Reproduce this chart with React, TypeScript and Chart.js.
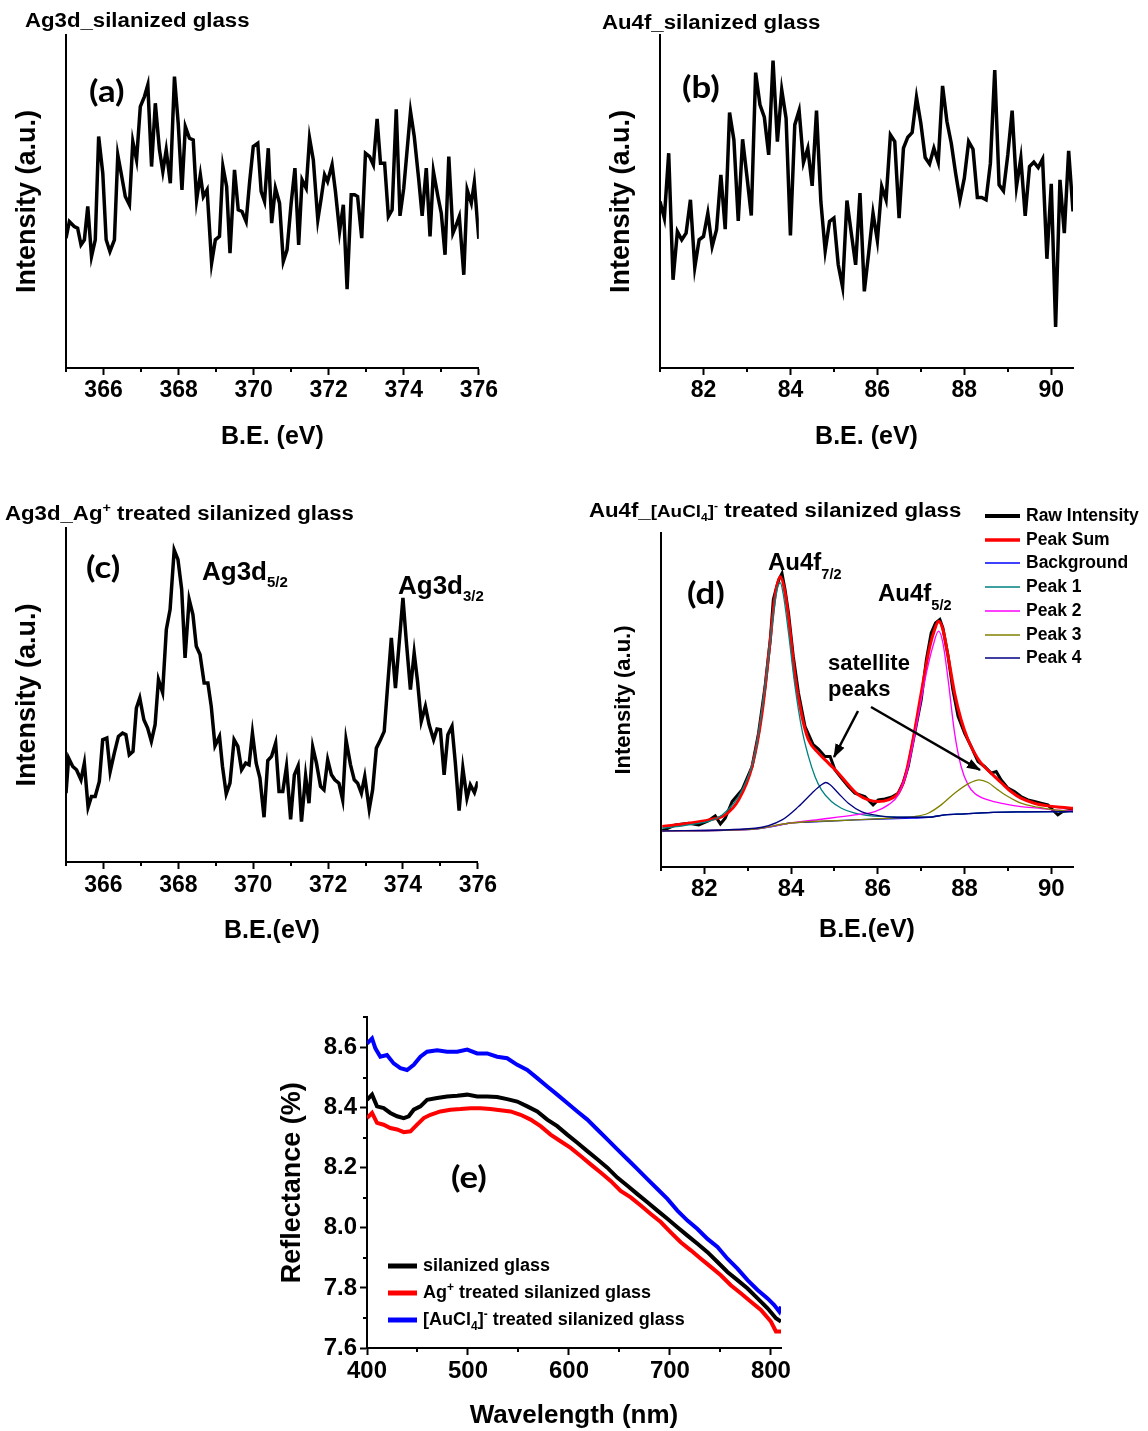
import React, { useEffect, useRef } from "react";
import { Chart, registerables } from "chart.js";

Chart.register(...registerables);

const SANS = '"Liberation Sans", Arial, Helvetica, sans-serif';
const LATO = 'Lato, "Open Sans", sans-serif';

// ---------------- (a) Ag3d, silanized glass ----------------
const agBlankEnergy = [
  365.0, 365.09, 365.22, 365.31, 365.4, 365.49, 365.58, 365.68, 365.78, 365.87,
  365.98, 366.07, 366.17, 366.29, 366.38, 366.47, 366.58, 366.69, 366.78, 366.88,
  366.98, 367.09, 367.18, 367.28, 367.38, 367.49, 367.58, 367.67, 367.78, 367.89,
  367.99, 368.09, 368.18, 368.29, 368.39, 368.48, 368.58, 368.66, 368.76, 368.88,
  368.98, 369.09, 369.18, 369.28, 369.37, 369.49, 369.59, 369.69, 369.8, 369.89,
  369.99, 370.11, 370.2, 370.29, 370.39, 370.48, 370.58, 370.69, 370.79, 370.89,
  371.0, 371.1, 371.2, 371.29, 371.4, 371.49, 371.59, 371.71, 371.8, 371.89,
  371.97, 372.09, 372.18, 372.29, 372.39, 372.49, 372.6, 372.69, 372.77, 372.88,
  372.98, 373.09, 373.19, 373.29, 373.38, 373.49, 373.59, 373.69, 373.8, 373.9,
  374.0, 374.18, 374.28, 374.4, 374.49, 374.6, 374.7, 374.79, 374.91, 375.0,
  375.1, 375.2, 375.31, 375.4, 375.48, 375.6, 375.69, 375.8, 375.88, 376.0,
];
const agBlankIntensity = [
  39.0, 44.0, 42.5, 42.0, 37.0, 38.5, 48.5, 33.5, 38.5, 69.5,
  58.5, 38.5, 35.0, 38.5, 64.0, 58.5, 51.5, 49.0, 68.0, 62.5,
  78.5, 81.5, 85.0, 60.5, 79.5, 65.5, 59.0, 65.5, 55.5, 87.5,
  73.5, 53.5, 72.5, 69.0, 68.5, 50.5, 58.0, 51.5, 53.5, 31.5,
  38.5, 39.5, 60.5, 54.5, 34.5, 59.5, 47.5, 47.0, 44.0, 55.5,
  66.5, 67.5, 53.0, 50.0, 66.0, 43.5, 54.0, 49.5, 32.0, 35.5,
  49.5, 60.0, 37.0, 56.5, 54.0, 69.0, 62.5, 44.5, 51.0, 58.0,
  56.0, 61.0, 53.0, 41.0, 49.0, 23.7, 52.0, 52.0, 51.5, 39.0,
  64.5, 63.5, 61.0, 74.8, 61.5, 61.5, 45.5, 47.5, 77.7, 45.7,
  54.0, 77.0, 69.5, 56.5, 45.7, 60.0, 39.5, 59.0, 51.5, 46.5,
  34.0, 63.5, 40.5, 43.0, 45.5, 28.0, 53.5, 49.5, 55.7, 38.8,
];

// ---------------- (b) Au4f, silanized glass ----------------
const auBlankEnergy = [
  81.0, 81.1, 81.2, 81.3, 81.4, 81.5, 81.6, 81.7, 81.8, 81.9,
  82.0, 82.1, 82.2, 82.3, 82.4, 82.5, 82.6, 82.7, 82.8, 82.9,
  83.0, 83.1, 83.2, 83.3, 83.4, 83.5, 83.6, 83.7, 83.8, 83.9,
  84.0, 84.1, 84.2, 84.3, 84.4, 84.5, 84.6, 84.7, 84.8, 84.9,
  85.0, 85.1, 85.2, 85.3, 85.4, 85.5, 85.6, 85.7, 85.8, 85.9,
  86.0, 86.1, 86.2, 86.3, 86.4, 86.5, 86.6, 86.7, 86.8, 86.9,
  87.0, 87.1, 87.2, 87.3, 87.4, 87.5, 87.6, 87.7, 87.8, 87.9,
  88.0, 88.1, 88.2, 88.3, 88.4, 88.5, 88.6, 88.7, 88.8, 88.9,
  89.0, 89.1, 89.2, 89.3, 89.4, 89.5, 89.6, 89.7, 89.8, 89.9,
  90.0, 90.1, 90.2, 90.3, 90.4, 90.5,
];
const auBlankIntensity = [
  50.0, 45.0, 64.5, 26.5, 41.0, 38.5, 40.5, 50.5, 30.2, 38.5,
  39.5, 46.5, 36.5, 41.5, 58.0, 41.7, 76.7, 68.5, 44.2, 68.7,
  57.5, 45.8, 88.7, 79.0, 75.3, 64.0, 92.3, 68.0, 83.5, 75.0,
  39.8, 73.0, 77.3, 61.7, 66.0, 54.7, 77.3, 50.0, 35.2, 44.0,
  45.0, 31.0, 24.3, 50.3, 40.5, 31.0, 52.5, 23.0, 34.5, 46.5,
  38.3, 54.5, 50.5, 70.0, 68.0, 45.0, 66.0, 69.3, 70.7, 81.3,
  73.5, 63.2, 61.3, 66.0, 61.8, 84.7, 74.0, 67.5, 58.5, 50.5,
  57.0, 68.0, 65.7, 51.2, 51.2, 50.5, 61.5, 89.5, 55.0, 53.2,
  64.0, 77.3, 54.5, 63.0, 45.7, 60.5, 61.8, 60.2, 62.7, 32.8,
  55.3, 12.3, 56.5, 40.5, 65.2, 47.0,
];

// ---------------- (c) Ag3d, Ag+ treated ----------------
const agTreatedEnergy = [
  365.0, 365.07, 365.18, 365.28, 365.4, 365.49, 365.59, 365.68, 365.78, 365.89,
  365.98, 366.09, 366.18, 366.29, 366.4, 366.51, 366.6, 366.69, 366.79, 366.88,
  366.97, 367.08, 367.18, 367.28, 367.38, 367.47, 367.58, 367.68, 367.78, 367.89,
  367.99, 368.09, 368.18, 368.29, 368.39, 368.48, 368.58, 368.69, 368.79, 368.88,
  368.98, 369.1, 369.18, 369.28, 369.38, 369.49, 369.59, 369.69, 369.8, 369.89,
  369.98, 370.08, 370.18, 370.29, 370.39, 370.49, 370.6, 370.69, 370.79, 370.89,
  371.0, 371.1, 371.2, 371.29, 371.4, 371.49, 371.59, 371.69, 371.8, 371.89,
  371.99, 372.09, 372.18, 372.29, 372.39, 372.48, 372.6, 372.7, 372.79, 372.89,
  372.98, 373.1, 373.19, 373.29, 373.4, 373.5, 373.59, 373.69, 373.8, 373.9,
  374.0, 374.09, 374.2, 374.3, 374.39, 374.49, 374.6, 374.7, 374.82, 374.91,
  375.0, 375.1, 375.2, 375.31, 375.4, 375.5, 375.6, 375.71, 375.8, 375.91,
  376.0,
];
const agTreatedIntensity = [
  20.6, 31.1, 28.6, 27.6, 24.6, 29.6, 16.4, 19.6, 19.6, 24.1,
  36.6, 37.1, 27.1, 32.6, 37.6, 38.6, 38.1, 32.1, 33.1, 46.1,
  49.1, 42.6, 40.1, 36.1, 41.1, 54.6, 50.8, 69.6, 75.6, 93.4,
  90.6, 81.6, 61.1, 78.6, 74.1, 64.6, 62.1, 53.6, 53.6, 46.6,
  34.8, 37.6, 28.6, 20.4, 23.6, 36.6, 34.6, 27.6, 29.6, 29.1,
  38.6, 29.6, 25.1, 13.4, 30.4, 31.6, 35.6, 21.1, 21.1, 28.6,
  12.8, 26.1, 28.8, 12.1, 25.8, 17.6, 34.4, 29.6, 22.6, 21.6,
  30.6, 26.1, 24.6, 23.6, 18.6, 36.6, 29.1, 24.6, 23.6, 20.6,
  25.6, 15.8, 21.6, 34.1, 36.6, 39.1, 52.6, 67.1, 52.1, 65.6,
  79.1, 66.1, 51.6, 62.6, 54.1, 42.1, 46.6, 41.1, 36.6, 39.8,
  39.6, 26.1, 38.1, 40.6, 29.6, 15.4, 28.1, 19.1, 23.1, 20.8,
  24.1,
];

// ---------------- (d) Au4f, [AuCl4]- treated, with fit ----------------
const dSeriesNames = ["Raw Intensity", "Peak Sum", "Background", "Peak 1", "Peak 2", "Peak 3", "Peak 4"];
const rawEnergy = [
  81.03, 81.33, 81.64, 81.87, 82.1, 82.25, 82.37, 82.48, 82.64, 82.87,
  83.1, 83.25, 83.4, 83.52, 83.59, 83.67, 83.72, 83.79, 83.86, 83.94,
  84.05, 84.17, 84.32, 84.51, 84.63, 84.78, 84.9, 85.01, 85.16, 85.32,
  85.47, 85.7, 85.89, 86.01, 86.16, 86.31, 86.47, 86.58, 86.7, 86.85,
  87.0, 87.12, 87.23, 87.33, 87.43, 87.5, 87.62, 87.73, 87.85, 88.0,
  88.15, 88.31, 88.46, 88.61, 88.73, 88.84, 89.0, 89.15, 89.3, 89.46,
  89.61, 89.76, 89.92, 90.07, 90.15, 90.26, 90.5,
];
const rawIntensity = [
  10.8, 12.6, 13.1, 12.6, 13.9, 15.3, 12.9, 14.6, 19.6, 23.1,
  30.1, 40.1, 54.1, 68.1, 80.1, 84.1, 86.1, 87.9, 83.1, 76.1,
  63.1, 52.1, 42.1, 36.6, 35.3, 33.1, 33.1, 29.1, 26.6, 24.1,
  22.1, 21.1, 18.6, 20.1, 20.4, 20.9, 22.1, 25.1, 30.1, 40.1,
  50.1, 62.1, 70.1, 73.1, 74.1, 71.6, 63.1, 53.1, 45.1, 40.1,
  36.1, 31.6, 30.1, 28.1, 28.6, 26.1, 23.6, 22.6, 21.1, 20.1,
  19.6, 19.1, 18.6, 16.6, 15.6, 16.6, 17.1,
];
const sumEnergy = [
  81.03, 81.64, 82.1, 82.48, 82.79, 83.1, 83.33, 83.52, 83.63, 83.75,
  83.86, 83.98, 84.09, 84.25, 84.4, 84.63, 84.86, 85.09, 85.32, 85.55,
  85.78, 86.01, 86.24, 86.47, 86.62, 86.81, 87.0, 87.2, 87.31, 87.4,
  87.5, 87.62, 87.77, 87.92, 88.08, 88.23, 88.38, 88.61, 88.84, 89.07,
  89.3, 89.61, 89.92, 90.22, 90.5,
];
const sumIntensity = [
  12.1, 13.1, 14.1, 15.6, 20.1, 30.1, 46.1, 68.1, 81.1, 86.9,
  82.1, 70.1, 57.1, 45.1, 38.1, 34.1, 31.1, 28.1, 24.6, 21.6,
  20.1, 19.6, 20.1, 22.1, 26.6, 38.1, 52.1, 66.1, 71.1, 73.6,
  71.1, 63.1, 52.1, 44.1, 38.1, 34.1, 31.1, 28.1, 25.3, 22.6,
  20.6, 19.1, 18.3, 17.9, 17.6,
];
const bgEnergy = [81.03, 83.1, 83.56, 83.94, 84.32, 85.47, 86.62, 87.16, 87.54, 88.0, 88.54, 89.3, 90.5];
const bgIntensity = [10.8, 11.3, 12.1, 13.1, 13.4, 14.1, 14.6, 14.9, 15.6, 15.9, 16.3, 16.5, 16.6];
const peak1Energy = [
  81.03, 81.64, 82.41, 82.87, 83.17, 83.4, 83.56, 83.67, 83.75, 83.82,
  83.94, 84.09, 84.25, 84.4, 84.55, 84.7, 84.93, 85.16, 85.47, 85.85,
  86.24, 86.62, 87.16, 87.54, 88.0, 88.54, 89.3, 90.5,
];
const peak1Intensity = [
  11.6, 12.6, 15.6, 23.1, 34.1, 54.1, 72.1, 82.6, 85.1, 81.6,
  70.1, 54.1, 41.1, 33.1, 27.1, 23.1, 19.6, 17.6, 16.1, 15.3,
  15.1, 14.9, 14.9, 15.6, 15.9, 16.3, 16.5, 16.6,
];
const peak2Energy = [
  81.03, 83.1, 83.94, 84.7, 85.47, 85.93, 86.24, 86.47, 86.7, 86.93,
  87.12, 87.27, 87.4, 87.5, 87.62, 87.77, 87.92, 88.08, 88.23, 88.54,
  88.92, 89.3, 89.69, 90.07, 90.5,
];
const peak2Intensity = [
  10.8, 11.3, 13.1, 14.3, 15.6, 16.6, 18.6, 21.6, 30.1, 45.1,
  58.1, 66.1, 70.6, 67.1, 56.1, 40.1, 30.1, 24.6, 22.1, 20.1,
  18.9, 18.1, 17.6, 17.1, 16.8,
];
const peak3Energy = [
  81.03, 83.1, 83.94, 85.47, 86.24, 86.85, 87.16, 87.46, 87.77, 88.08,
  88.34, 88.54, 88.77, 89.0, 89.3, 89.69, 90.07, 90.5,
];
const peak3Intensity = [
  10.8, 11.3, 13.1, 14.1, 14.6, 15.1, 16.1, 18.6, 22.1, 24.9,
  26.1, 25.3, 23.1, 21.1, 19.1, 17.9, 17.1, 16.6,
];
const peak4Energy = [
  81.03, 83.17, 83.79, 84.17, 84.48, 84.7, 84.8, 84.9, 85.09, 85.32,
  85.62, 86.01, 86.39, 87.16, 87.54, 88.0, 88.54, 89.3, 90.5,
];
const peak4Intensity = [
  10.8, 11.6, 14.1, 18.1, 22.1, 24.6, 25.3, 24.6, 22.1, 19.1,
  16.6, 15.4, 14.9, 14.9, 15.6, 15.9, 16.3, 16.5, 16.6,
];

// ---------------- (e) reflectance ----------------
const silanizedWl = [
  400, 405, 409.9, 416.5, 423.1, 429.8, 436.4, 441.3, 446.3, 452.9,
  459.5, 469.4, 479.3, 489.3, 499.2, 509.1, 519.0, 528.9, 538.8, 548.8,
  558.7, 568.6, 578.5, 588.4, 598.3, 608.3, 618.2, 628.1, 638.0, 647.9,
  657.9, 667.8, 677.7, 687.6, 697.5, 707.4, 717.4, 727.3, 737.2, 747.1,
  757.0, 766.9, 776.9, 786.8, 796.7, 805.0, 810,
];
const silanizedRefl = [
  8.426, 8.443, 8.404, 8.398, 8.382, 8.371, 8.365, 8.371, 8.393, 8.404,
  8.426, 8.432, 8.437, 8.439, 8.443, 8.437, 8.437, 8.435, 8.428, 8.42,
  8.404, 8.387, 8.36, 8.338, 8.31, 8.283, 8.255, 8.228, 8.2, 8.167,
  8.14, 8.112, 8.085, 8.057, 8.03, 8.002, 7.974, 7.947, 7.919, 7.886,
  7.853, 7.826, 7.798, 7.765, 7.732, 7.699, 7.688,
];
const agWl = [
  400, 405, 409.9, 416.5, 423.1, 429.8, 436.4, 443.0, 449.6, 456.2,
  462.8, 472.7, 482.6, 492.6, 502.5, 512.4, 522.3, 532.2, 542.1, 552.1,
  562.0, 571.9, 581.8, 591.7, 601.7, 611.6, 621.5, 631.4, 641.3, 651.2,
  661.2, 671.1, 681.0, 690.9, 700.8, 710.7, 720.7, 730.6, 740.5, 750.4,
  760.3, 770.2, 780.2, 790.1, 800.0, 805.0, 810,
];
const agRefl = [
  8.365, 8.382, 8.349, 8.343, 8.332, 8.327, 8.318, 8.321, 8.343, 8.365,
  8.376, 8.387, 8.393, 8.395, 8.398, 8.398, 8.395, 8.391, 8.387, 8.376,
  8.36, 8.338, 8.31, 8.288, 8.266, 8.239, 8.211, 8.184, 8.156, 8.123,
  8.101, 8.074, 8.046, 8.019, 7.985, 7.952, 7.925, 7.897, 7.87, 7.842,
  7.809, 7.782, 7.754, 7.727, 7.688, 7.655, 7.655,
];
const auWl = [
  400, 405, 408.3, 413.2, 419.8, 426.4, 433.1, 439.7, 446.3, 452.9,
  459.5, 469.4, 479.3, 489.3, 499.2, 509.1, 519.0, 528.9, 538.8, 548.8,
  558.7, 568.6, 578.5, 588.4, 598.3, 608.3, 618.2, 628.1, 638.0, 647.9,
  657.9, 667.8, 677.7, 687.6, 697.5, 707.4, 717.4, 727.3, 737.2, 747.1,
  757.0, 766.9, 776.9, 786.8, 796.7, 803.3, 808.3, 810,
];
const auRefl = [
  8.613, 8.63, 8.597, 8.569, 8.575, 8.547, 8.531, 8.525, 8.542, 8.569,
  8.586, 8.591, 8.586, 8.586, 8.593, 8.58, 8.58, 8.569, 8.564, 8.542,
  8.525, 8.498, 8.47, 8.443, 8.415, 8.387, 8.36, 8.327, 8.294, 8.261,
  8.228, 8.195, 8.162, 8.129, 8.096, 8.057, 8.024, 7.996, 7.963, 7.936,
  7.897, 7.864, 7.826, 7.793, 7.765, 7.743, 7.721, 7.738,
];
const eSeriesNames = ["silanized glass", "Ag+ treated silanized glass", "[AuCl4]- treated silanized glass"];

// ---------------- tick values ----------------
const agMajorTicks = [366, 368, 370, 372, 374, 376];
const agMinorTicks = [365, 367, 369, 371, 373, 375];
const auMajorTicks = [82, 84, 86, 88, 90];
const auMinorTicks = [81, 83, 85, 87, 89];
const wlMajorTicks = [400, 500, 600, 700, 800];
const wlMinorTicks = [450, 550, 650, 750];
const reflMajorTicks = [7.6, 7.8, 8.0, 8.2, 8.4, 8.6];
const reflMinorTicks = [7.7, 7.9, 8.1, 8.3, 8.5, 8.7];

// ---------------- styles ----------------
const D_STYLE = [
  { color: "#000000", width: 3, legendWidth: 4 },
  { color: "#FF0000", width: 3, legendWidth: 3.5 },
  { color: "#0000FF", width: 1.3, legendWidth: 1.5 },
  { color: "#008080", width: 1.3, legendWidth: 1.5 },
  { color: "#FF00FF", width: 1.3, legendWidth: 1.5 },
  { color: "#808000", width: 1.3, legendWidth: 1.5 },
  { color: "#000080", width: 1.3, legendWidth: 1.5 },
];
const E_COLORS = ["#000000", "#FF0000", "#0000FF"];

function pts(xs: number[], ys: number[]) {
  return xs.map((x, i) => ({ x, y: ys[i] }));
}

function minorTickPlugin(xVals: number[], yVals: number[], len: number) {
  return {
    id: "minorTicks",
    afterDraw(chart: any) {
      const { ctx, chartArea, scales } = chart;
      ctx.save();
      ctx.strokeStyle = "#000";
      ctx.lineWidth = 2;
      ctx.beginPath();
      for (const v of xVals) {
        const px = Math.round(scales.x.getPixelForValue(v));
        ctx.moveTo(px, chartArea.bottom);
        ctx.lineTo(px, chartArea.bottom + len);
      }
      for (const v of yVals) {
        const py = Math.round(scales.y.getPixelForValue(v));
        ctx.moveTo(chartArea.left, py);
        ctx.lineTo(chartArea.left - len, py);
      }
      ctx.stroke();
      ctx.restore();
    },
  };
}

type XpsOpts = {
  datasets: any[];
  xMin: number;
  xMax: number;
  xTicks: number[];
  xMinor: number[];
  yMax: number;
  yWidth: number;
  xHeight: number;
  padTop: number;
  padRight: number;
  yTitle: string;
  yTitleSize: number;
  yTitlePad: number;
  xTitle: string;
  xTitleSize: number;
  xTitlePad: number;
  tickSize: number;
  tickPad: number;
};

function xpsConfig(o: XpsOpts): any {
  return {
    type: "line",
    data: { datasets: o.datasets },
    options: {
      responsive: false,
      animation: false,
      events: [],
      layout: { padding: { top: o.padTop, right: o.padRight, left: 0, bottom: 0 } },
      plugins: { legend: { display: false }, tooltip: { enabled: false } },
      elements: { point: { radius: 0 } },
      scales: {
        x: {
          type: "linear",
          min: o.xMin,
          max: o.xMax,
          afterBuildTicks: (s: any) => {
            s.ticks = o.xTicks.map((v) => ({ value: v }));
          },
          afterFit: (s: any) => {
            s.height = o.xHeight;
          },
          grid: { display: true, drawOnChartArea: false, drawTicks: true, tickLength: 7, tickWidth: 2, tickColor: "#000" },
          border: { display: true, color: "#000", width: 2 },
          ticks: {
            color: "#000",
            autoSkip: false,
            maxRotation: 0,
            padding: o.tickPad,
            font: { family: SANS, size: o.tickSize, weight: "bold" },
            callback: (v: any) => String(v),
          },
          title: {
            display: true,
            text: o.xTitle,
            color: "#000",
            font: { family: SANS, size: o.xTitleSize, weight: "bold" },
            padding: { top: 0, bottom: o.xTitlePad },
          },
        },
        y: {
          type: "linear",
          min: 0,
          max: o.yMax,
          afterFit: (s: any) => {
            s.width = o.yWidth;
          },
          grid: { display: false },
          border: { display: true, color: "#000", width: 2 },
          ticks: { display: false },
          title: {
            display: true,
            text: o.yTitle,
            color: "#000",
            font: { family: SANS, size: o.yTitleSize, weight: "bold" },
            padding: { top: o.yTitlePad, bottom: 0 },
          },
        },
      },
    },
    plugins: [minorTickPlugin(o.xMinor, [], 4)],
  };
}

function rawLine(label: string, xs: number[], ys: number[]) {
  return { label, data: pts(xs, ys), borderColor: "#000", borderWidth: 3.5, pointRadius: 0, tension: 0, fill: false };
}

function buildA() {
  return xpsConfig({
    datasets: [rawLine("Ag3d_silanized glass", agBlankEnergy, agBlankIntensity)],
    xMin: 365, xMax: 376, xTicks: agMajorTicks, xMinor: agMinorTicks, yMax: 100,
    yWidth: 66, xHeight: 92, padTop: 35, padRight: 20,
    yTitle: "Intensity (a.u.)", yTitleSize: 27, yTitlePad: 11,
    xTitle: "B.E. (eV)", xTitleSize: 25, xTitlePad: 8, tickSize: 23, tickPad: 2,
  });
}
function buildB() {
  return xpsConfig({
    datasets: [rawLine("Au4f_silanized glass", auBlankEnergy, auBlankIntensity)],
    xMin: 81, xMax: 90.5, xTicks: auMajorTicks, xMinor: auMinorTicks, yMax: 100,
    yWidth: 66, xHeight: 92, padTop: 35, padRight: 21,
    yTitle: "Intensity (a.u.)", yTitleSize: 27, yTitlePad: 11,
    xTitle: "B.E. (eV)", xTitleSize: 25, xTitlePad: 8, tickSize: 23, tickPad: 2,
  });
}
function buildC() {
  return xpsConfig({
    datasets: [rawLine("Ag3d_Ag+ treated silanized glass", agTreatedEnergy, agTreatedIntensity)],
    xMin: 365, xMax: 376, xTicks: agMajorTicks, xMinor: agMinorTicks, yMax: 100,
    yWidth: 66, xHeight: 93, padTop: 34, padRight: 20,
    yTitle: "Intensity (a.u.)", yTitleSize: 27, yTitlePad: 11,
    xTitle: "B.E.(eV)", xTitleSize: 25, xTitlePad: 9, tickSize: 23, tickPad: 3,
  });
}
function buildD() {
  const sets = [
    [rawEnergy, rawIntensity],
    [sumEnergy, sumIntensity],
    [bgEnergy, bgIntensity],
    [peak1Energy, peak1Intensity],
    [peak2Energy, peak2Intensity],
    [peak3Energy, peak3Intensity],
    [peak4Energy, peak4Intensity],
  ];
  const datasets = sets.map(([xs, ys], i) => ({
    label: dSeriesNames[i],
    data: pts(xs, ys),
    borderColor: D_STYLE[i].color,
    borderWidth: D_STYLE[i].width,
    pointRadius: 0,
    fill: false,
    tension: 0,
    cubicInterpolationMode: i === 0 ? "default" : "monotone",
    order: 7 - i,
  }));
  return xpsConfig({
    datasets,
    xMin: 81, xMax: 90.5, xTicks: auMajorTicks, xMinor: auMinorTicks, yMax: 100,
    yWidth: 67, xHeight: 88, padTop: 39, padRight: 21,
    yTitle: "Intensity (a.u.)", yTitleSize: 22, yTitlePad: 17,
    xTitle: "B.E.(eV)", xTitleSize: 25, xTitlePad: 10, tickSize: 24, tickPad: 1,
  });
}
function buildE(): any {
  const sets = [
    [silanizedWl, silanizedRefl],
    [agWl, agRefl],
    [auWl, auRefl],
  ];
  const datasets = sets.map(([xs, ys], i) => ({
    label: eSeriesNames[i],
    data: pts(xs, ys),
    borderColor: E_COLORS[i],
    borderWidth: 4,
    pointRadius: 0,
    fill: false,
    tension: 0,
    order: i,
  }));
  return {
    type: "line",
    data: { datasets },
    options: {
      responsive: false,
      animation: false,
      events: [],
      layout: { padding: { top: 13, right: 29, left: 0, bottom: 0 } },
      plugins: { legend: { display: false }, tooltip: { enabled: false } },
      scales: {
        x: {
          type: "linear",
          min: 400,
          max: 810,
          afterBuildTicks: (s: any) => {
            s.ticks = wlMajorTicks.map((v) => ({ value: v }));
          },
          afterFit: (s: any) => {
            s.height = 83;
          },
          grid: { display: true, drawOnChartArea: false, drawTicks: true, tickLength: 7, tickWidth: 2, tickColor: "#000" },
          border: { display: true, color: "#000", width: 2 },
          ticks: { color: "#000", autoSkip: false, maxRotation: 0, padding: 2, font: { family: SANS, size: 24, weight: "bold" }, callback: (v: any) => String(v) },
          title: { display: true, text: "Wavelength (nm)", color: "#000", font: { family: SANS, size: 26, weight: "bold" }, padding: { top: 0, bottom: 0 } },
        },
        y: {
          type: "linear",
          min: 7.6,
          max: 8.7,
          afterBuildTicks: (s: any) => {
            s.ticks = reflMajorTicks.map((v) => ({ value: v }));
          },
          afterFit: (s: any) => {
            s.width = 97;
          },
          grid: { display: true, drawOnChartArea: false, drawTicks: true, tickLength: 7, tickWidth: 2, tickColor: "#000" },
          border: { display: true, color: "#000", width: 2 },
          ticks: { color: "#000", padding: 3, font: { family: SANS, size: 24, weight: "bold" }, callback: (v: any) => Number(v).toFixed(1) },
          title: { display: true, text: "Reflectance (%)", color: "#000", font: { family: SANS, size: 27, weight: "bold" }, padding: { top: 6, bottom: 0 } },
        },
      },
    },
    plugins: [minorTickPlugin(wlMinorTicks, reflMinorTicks, 4)],
  };
}

function ChartCanvas(props: { left: number; top: number; width: number; height: number; build: () => any }) {
  const ref = useRef<HTMLCanvasElement | null>(null);
  useEffect(() => {
    if (!ref.current) return;
    const chart = new Chart(ref.current, props.build());
    return () => chart.destroy();
  }, []);
  return (
    <canvas
      ref={ref}
      width={props.width}
      height={props.height}
      style={{ position: "absolute", left: props.left, top: props.top, width: props.width, height: props.height }}
    />
  );
}

function Txt(props: { x: number; cy: number; size: number; family?: string; sx?: number; k?: number; children: any }) {
  const k = props.k ?? 0.49;
  return (
    <div
      style={{
        position: "absolute",
        left: props.x,
        top: props.cy - props.size * k,
        fontFamily: props.family ?? SANS,
        fontSize: props.size,
        fontWeight: 700,
        lineHeight: `${props.size}px`,
        whiteSpace: "nowrap",
        color: "#000",
        transform: props.sx ? `scaleX(${props.sx})` : undefined,
        transformOrigin: "left center",
      }}
    >
      {props.children}
    </div>
  );
}

function Sub(props: { size: number; dy: number; children: any }) {
  return <span style={{ fontSize: props.size, position: "relative", top: props.dy }}>{props.children}</span>;
}

const dLegendRows = [516, 540, 563, 587, 611, 635, 658];
const eLegendRows = [1265, 1292, 1319];

export default function App() {
  return (
    <div style={{ position: "absolute", left: 0, top: 0, width: 1148, height: 1431, background: "#fff", overflow: "hidden" }}>
      <ChartCanvas left={0} top={0} width={500} height={460} build={buildA} />
      <ChartCanvas left={594} top={0} width={500} height={460} build={buildB} />
      <ChartCanvas left={0} top={494} width={500} height={461} build={buildC} />
      <ChartCanvas left={594} top={494} width={500} height={461} build={buildD} />
      <ChartCanvas left={270} top={1000} width={540} height={431} build={buildE} />

      {/* panel titles */}
      <Txt x={25} cy={20} size={20} sx={1.11}>Ag3d_silanized glass</Txt>
      <Txt x={602} cy={21.5} size={20} sx={1.11}>Au4f_silanized glass</Txt>
      <Txt x={5} cy={512.5} size={20} sx={1.11}>
        Ag3d_Ag<Sub size={13} dy={-8}>+</Sub> treated silanized glass
      </Txt>
      <Txt x={589} cy={510} size={20} sx={1.11}>
        Au4f_<span style={{ fontSize: 17 }}>[AuCl<Sub size={11} dy={4}>4</Sub>]<Sub size={11} dy={-8}>-</Sub></span> treated silanized glass
      </Txt>

      {/* panel letters */}
      <Txt x={89} cy={93} size={31} family={LATO} sx={1.12} k={0.58}>(a)</Txt>
      <Txt x={682} cy={89} size={31} family={LATO} sx={1.12} k={0.58}>(b)</Txt>
      <Txt x={86} cy={569} size={31} family={LATO} sx={1.12} k={0.58}>(c)</Txt>
      <Txt x={687} cy={595} size={31} family={LATO} sx={1.12} k={0.58}>(d)</Txt>
      <Txt x={451} cy={1179} size={31} family={LATO} sx={1.12} k={0.58}>(e)</Txt>

      {/* peak annotations */}
      <Txt x={202} cy={571} size={26}>
        Ag3d<Sub size={15} dy={7}>5/2</Sub>
      </Txt>
      <Txt x={398} cy={585} size={26}>
        Ag3d<Sub size={15} dy={7}>3/2</Sub>
      </Txt>
      <Txt x={768} cy={561.5} size={24}>
        Au4f<Sub size={14.5} dy={9}>7/2</Sub>
      </Txt>
      <Txt x={878} cy={593} size={24}>
        Au4f<Sub size={14.5} dy={9}>5/2</Sub>
      </Txt>
      <Txt x={828} cy={663} size={22}>satellite</Txt>
      <Txt x={828} cy={689} size={22}>peaks</Txt>

      <svg width={1148} height={1431} style={{ position: "absolute", left: 0, top: 0, pointerEvents: "none" }}>
        <defs>
          <marker id="ah" markerUnits="userSpaceOnUse" markerWidth="14" markerHeight="10" refX="13" refY="5" orient="auto">
            <path d="M0,0 L14,5 L0,10 z" fill="#000" />
          </marker>
        </defs>
        <line x1={858} y1={711} x2={834} y2={757} stroke="#000" strokeWidth={2.5} markerEnd="url(#ah)" />
        <line x1={871} y1={707} x2={980} y2={770} stroke="#000" strokeWidth={2.5} markerEnd="url(#ah)" />
        {dLegendRows.map((y, i) => (
          <line key={"dl" + i} x1={985} y1={y} x2={1020} y2={y} stroke={D_STYLE[i].color} strokeWidth={D_STYLE[i].legendWidth} />
        ))}
        {eLegendRows.map((y, i) => (
          <line key={"el" + i} x1={388} y1={y + 1} x2={417} y2={y + 1} stroke={E_COLORS[i]} strokeWidth={5} />
        ))}
      </svg>

      {/* legend (d) */}
      {dSeriesNames.map((n, i) => (
        <Txt key={"dt" + i} x={1026} cy={dLegendRows[i]} size={17.5}>
          {n}
        </Txt>
      ))}

      {/* legend (e) */}
      <Txt x={423} cy={eLegendRows[0]} size={18}>{eSeriesNames[0]}</Txt>
      <Txt x={423} cy={eLegendRows[1]} size={18}>
        Ag<Sub size={12} dy={-7}>+</Sub> treated silanized glass
      </Txt>
      <Txt x={423} cy={eLegendRows[2]} size={18}>
        [AuCl<Sub size={12} dy={5}>4</Sub>]<Sub size={12} dy={-7}>-</Sub> treated silanized glass
      </Txt>
    </div>
  );
}
